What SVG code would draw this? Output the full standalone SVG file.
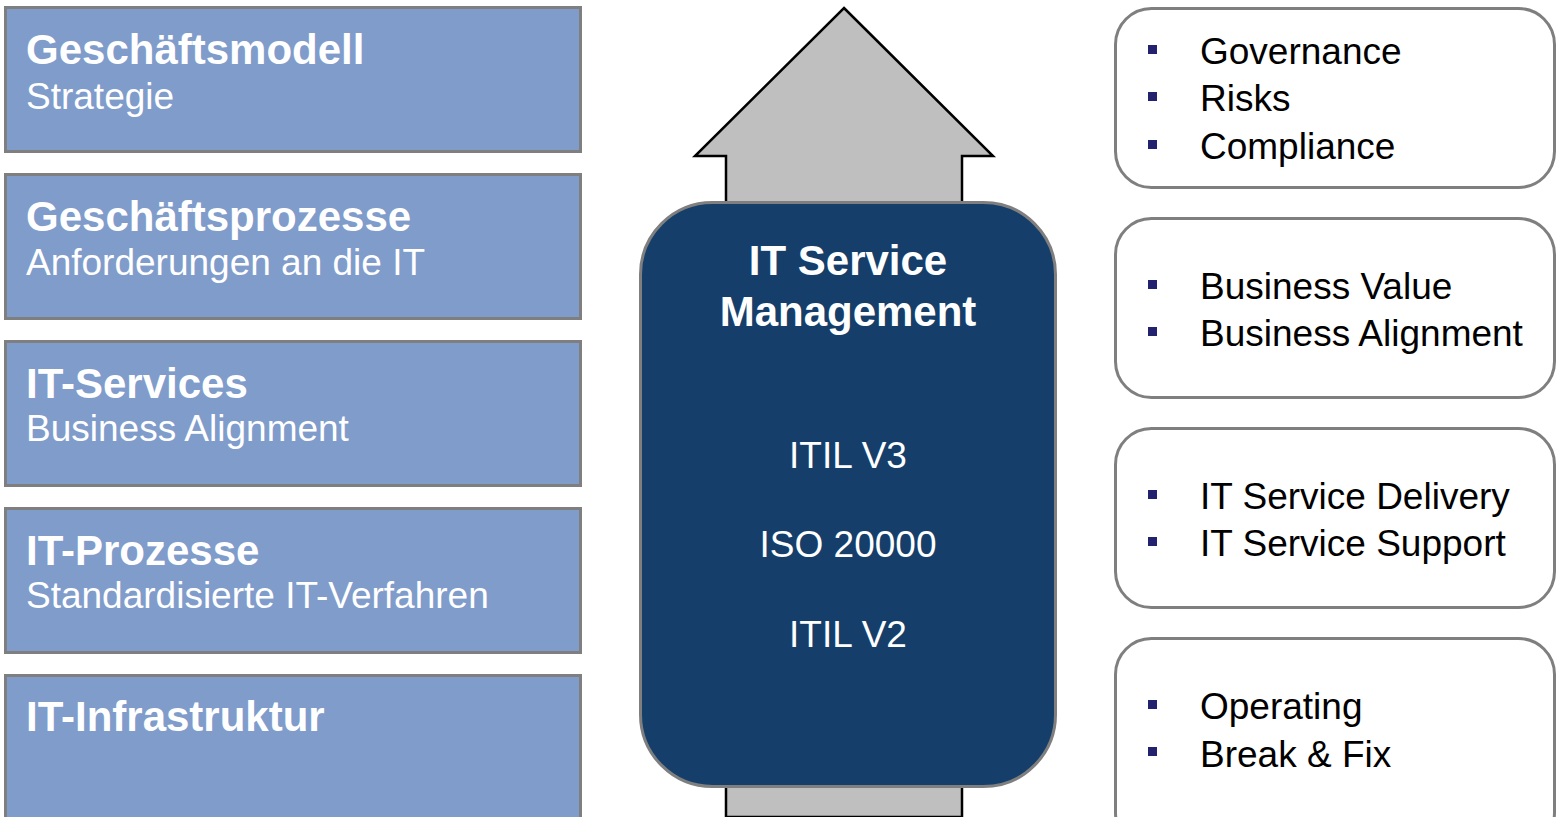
<svg xmlns="http://www.w3.org/2000/svg" width="1560" height="817" viewBox="0 0 1560 817">
<style>
.lb{fill:#7f9ccb;stroke:#7f7f7f;stroke-width:3}
.rb{fill:#ffffff;stroke:#7f7f7f;stroke-width:3}
.t{font-family:"Liberation Sans",Arial,sans-serif;fill:#ffffff}
.h{font-size:42px;font-weight:bold}
.s{font-size:37px}
.r{font-family:"Liberation Sans",Arial,sans-serif;font-size:37px;fill:#000000}
.b{fill:#22226e}
</style>
<rect width="1560" height="817" fill="#ffffff"/>
<g id="arrow">
<polygon points="844,8 993,156 962,156 962,817 726,817 726,156 695,156" fill="#bfbfbf" stroke="#000000" stroke-width="2.5"/>
</g>
<g id="box1"><rect class="lb" x="5.5" y="7.5" width="575" height="144"/>
<text class="t h" x="26" y="64">Geschäftsmodell</text><text class="t s" x="26" y="109">Strategie</text></g>
<g id="box2"><rect class="lb" x="5.5" y="174.5" width="575" height="144"/>
<text class="t h" x="26" y="231">Geschäftsprozesse</text><text class="t s" x="26" y="275">Anforderungen an die IT</text></g>
<g id="box3"><rect class="lb" x="5.5" y="341.5" width="575" height="144"/>
<text class="t h" x="26" y="398">IT-Services</text><text class="t s" x="26" y="441">Business Alignment</text></g>
<g id="box4"><rect class="lb" x="5.5" y="508.5" width="575" height="144"/>
<text class="t h" x="26" y="565">IT-Prozesse</text><text class="t s" x="26" y="608">Standardisierte IT-Verfahren</text></g>
<g id="box5"><rect class="lb" x="5.5" y="675.5" width="575" height="160"/>
<text class="t h" x="26" y="731">IT-Infrastruktur</text></g>
<g id="itsm"><rect x="640.5" y="202.5" width="415" height="584" rx="72" ry="72" fill="#153f6a" stroke="#7f7f7f" stroke-width="3"/>
<text class="t h" x="848" y="275" text-anchor="middle">IT Service</text>
<text class="t h" x="848" y="326" text-anchor="middle">Management</text>
<text class="t s" x="848" y="468" text-anchor="middle">ITIL V3</text>
<text class="t s" x="848" y="557" text-anchor="middle">ISO 20000</text>
<text class="t s" x="848" y="647" text-anchor="middle">ITIL V2</text></g>
<g id="r1"><rect class="rb" x="1115.5" y="8.5" width="439" height="179" rx="36" ry="36"/>
<rect class="b" x="1148" y="45" width="9" height="9"/><text class="r" x="1200" y="64">Governance</text>
<rect class="b" x="1148" y="92" width="9" height="9"/><text class="r" x="1200" y="111">Risks</text>
<rect class="b" x="1148" y="140" width="9" height="9"/><text class="r" x="1200" y="159">Compliance</text></g>
<g id="r2"><rect class="rb" x="1115.5" y="218.5" width="439" height="179" rx="36" ry="36"/>
<rect class="b" x="1148" y="280" width="9" height="9"/><text class="r" x="1200" y="299">Business Value</text>
<rect class="b" x="1148" y="327" width="9" height="9"/><text class="r" x="1200" y="346">Business Alignment</text></g>
<g id="r3"><rect class="rb" x="1115.5" y="428.5" width="439" height="179" rx="36" ry="36"/>
<rect class="b" x="1148" y="490" width="9" height="9"/><text class="r" x="1200" y="509">IT Service Delivery</text>
<rect class="b" x="1148" y="537" width="9" height="9"/><text class="r" x="1200" y="556">IT Service Support</text></g>
<g id="r4"><rect class="rb" x="1115.5" y="638.5" width="439" height="210" rx="36" ry="36"/>
<rect class="b" x="1148" y="700" width="9" height="9"/><text class="r" x="1200" y="719">Operating</text>
<rect class="b" x="1148" y="747" width="9" height="9"/><text class="r" x="1200" y="767">Break &amp; Fix</text></g>
<g id="connectors"/>
</svg>
